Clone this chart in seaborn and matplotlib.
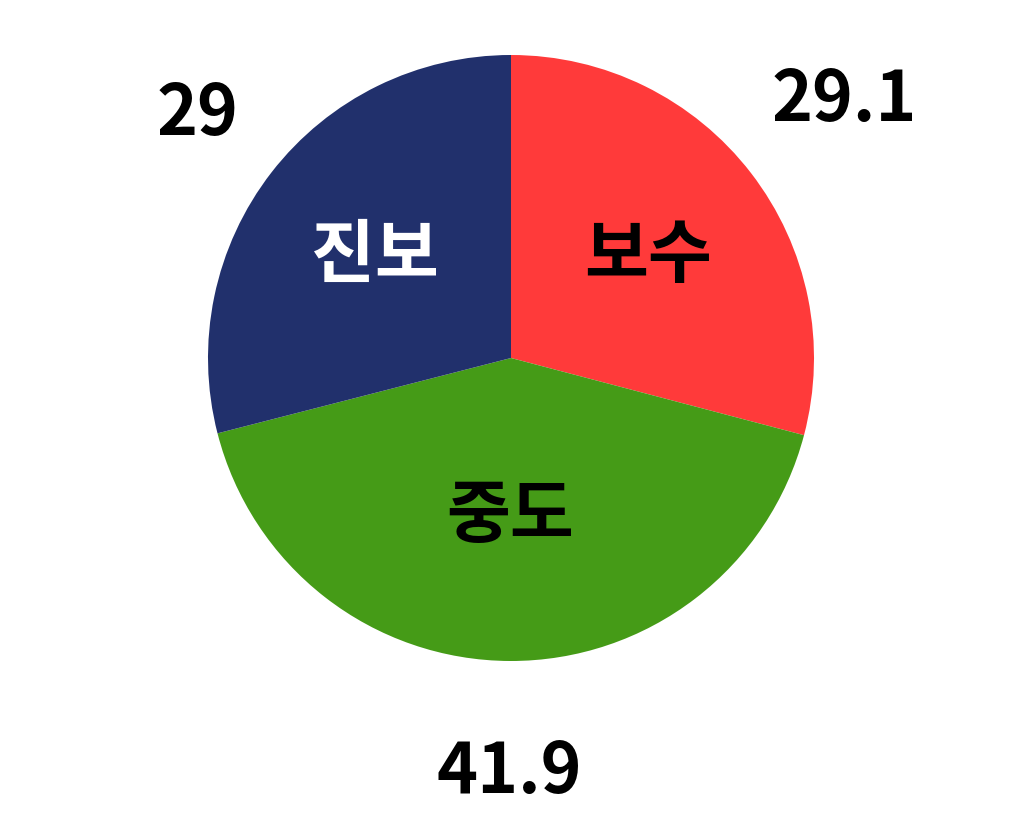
import numpy as np
import matplotlib
matplotlib.use("Agg")
from matplotlib import pyplot as plt
import seaborn as sns

labels = ["보수", "중도", "진보"]
values = [29.1, 41.9, 29]
value_text = ["29.1", "41.9", "29"]
colors = ["#FF3A3A", "#459B17", "#21306C"]
label_colors = ["black", "black", "white"]

# label distances from centre, in pie radii
inner_r = [0.57, 0.51, 0.57]
outer_r = [1.39, 1.37, 1.31]

sns.set_style("white")
plt.rcParams["font.family"] = ["Noto Sans CJK KR", "DejaVu Sans"]

fig = plt.figure(figsize=(10.24, 8.35), dpi=100)
ax = fig.add_axes([0, 0, 1, 1])

wedges, _ = ax.pie(values, colors=colors, startangle=90, counterclock=False,
                   radius=1, wedgeprops=dict(linewidth=0))

for w, lab, lc, vt, ri, ro in zip(wedges, labels, label_colors, value_text, inner_r, outer_r):
    ang = np.deg2rad((w.theta1 + w.theta2) / 2)
    ax.text(ri * np.cos(ang), ri * np.sin(ang) - 0.015, lab, ha="center", va="center",
            fontsize=50, fontweight="bold", color=lc)
    ax.text(ro * np.cos(ang), ro * np.sin(ang), vt, ha="center", va="center",
            fontsize=50, fontweight="bold", color="black")

r_px = 303
ax.set_xlim(-511 / r_px, (1024 - 511) / r_px)
ax.set_ylim(-(835 - 358) / r_px, 358 / r_px)
ax.set_aspect("auto")
ax.axis("off")

fig.savefig("out.png", dpi=100)
